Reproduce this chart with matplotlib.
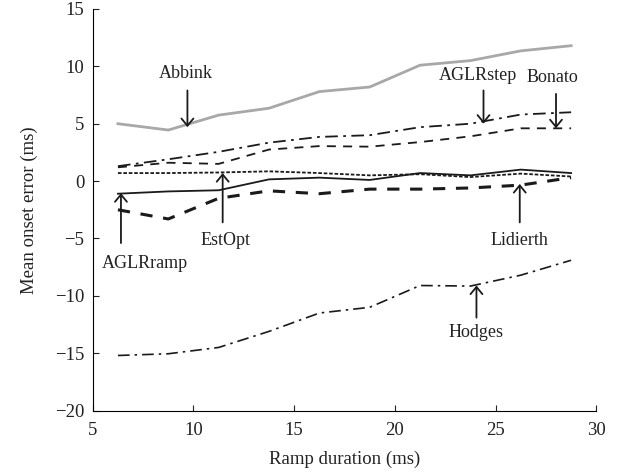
import matplotlib
matplotlib.use('Agg')
import matplotlib.pyplot as plt

# ramp durations (ms)
ramp = [6.25, 8.75, 11.25, 13.75, 16.25, 18.75, 21.25, 23.75, 26.25, 28.75]

# mean onset error (ms) per method
abbink = [5.0, 4.45, 5.75, 6.35, 7.8, 8.2, 10.1, 10.5, 11.35, 11.8]
aglr_step = [1.3, 1.9, 2.55, 3.35, 3.85, 4.0, 4.7, 5.0, 5.8, 6.0]
bonato = [1.2, 1.6, 1.5, 2.75, 3.05, 3.0, 3.4, 3.9, 4.6, 4.6]
estopt = [0.7, 0.7, 0.75, 0.85, 0.7, 0.5, 0.6, 0.35, 0.65, 0.4]
aglr_ramp = [-1.1, -0.9, -0.8, 0.15, 0.3, 0.1, 0.7, 0.5, 1.0, 0.7]
lidierth = [-2.5, -3.3, -1.5, -0.85, -1.1, -0.7, -0.7, -0.6, -0.35, 0.3]
hodges = [-15.2, -15.05, -14.5, -13.1, -11.5, -11.0, -9.1, -9.15, -8.2, -6.9]

# labels: name, text position, arrow tip, arrow tail
labels = [
    ('Abbink', (9.6, 9.4), (9.7, 4.7), (9.7, 7.9)),
    ('AGLRstep', (24.1, 9.2), (24.4, 5.0), (24.4, 7.9)),
    ('Bonato', (27.8, 9.0), (28.0, 4.6), (28.0, 7.6)),
    ('AGLRramp', (7.6, -7.2), (6.4, -1.05), (6.4, -5.4)),
    ('EstOpt', (11.6, -5.2), (11.45, 0.7), (11.45, -3.6)),
    ('Lidierth', (26.2, -5.2), (26.2, -0.25), (26.2, -3.6)),
    ('Hodges', (24.05, -13.2), (24.05, -9.1), (24.05, -11.9)),
]

plt.rcParams['font.family'] = ['Liberation Serif', 'DejaVu Serif']

fig = plt.figure(figsize=(6.31, 4.73), dpi=100)
ax = fig.add_axes([0.147, 0.132, 0.798, 0.849])

ax.plot(ramp, abbink, color='#a8a8a8', lw=2.0, solid_joinstyle='miter')
ax.plot(ramp, aglr_step, color='#1a1a1a', lw=1.3, dashes=(7, 3, 1.5, 3))
ax.plot(ramp, bonato, color='#1a1a1a', lw=1.3, dashes=(5, 4))
ax.plot(ramp, estopt, color='#1a1a1a', lw=1.3, dashes=(2, 1))
ax.plot(ramp, aglr_ramp, color='#1a1a1a', lw=1.3)
ax.plot(ramp, lidierth, color='#1a1a1a', lw=2.2, dashes=(4, 3.5))
ax.plot(ramp, hodges, color='#1a1a1a', lw=1.2, dashes=(7, 3, 1.5, 3))

for name, txt, tip, start in labels:
    ax.annotate('', xy=tip, xytext=start,
                arrowprops=dict(arrowstyle='->, head_length=0.4, head_width=0.33',
                                color='#1a1a1a', lw=1.3,
                                mutation_scale=13, shrinkA=0, shrinkB=0))
    ax.text(txt[0], txt[1], name, ha='center', va='center', fontsize=13, color='#222222')

ax.set_xlim(5, 30)
ax.set_ylim(-20, 15)
ax.set_xticks([5, 10, 15, 20, 25, 30])
ax.set_yticks([-20, -15, -10, -5, 0, 5, 10, 15])
ax.set_yticklabels(['\u221220', '\u221215', '\u221210', '\u22125', '0', '5', '10', '15'])
ax.spines['top'].set_visible(False)
ax.spines['right'].set_visible(False)
ax.tick_params(direction='in', length=4, labelsize=13.5, colors='#222222')
ax.tick_params(axis='x', pad=8)
ax.tick_params(axis='y', pad=6)
ax.set_xlabel('Ramp duration (ms)', fontsize=13.5, color='#222222', labelpad=9)
ax.set_ylabel('Mean onset error (ms)', fontsize=13.5, color='#222222', labelpad=12)

fig.savefig('out.png', dpi=100)
